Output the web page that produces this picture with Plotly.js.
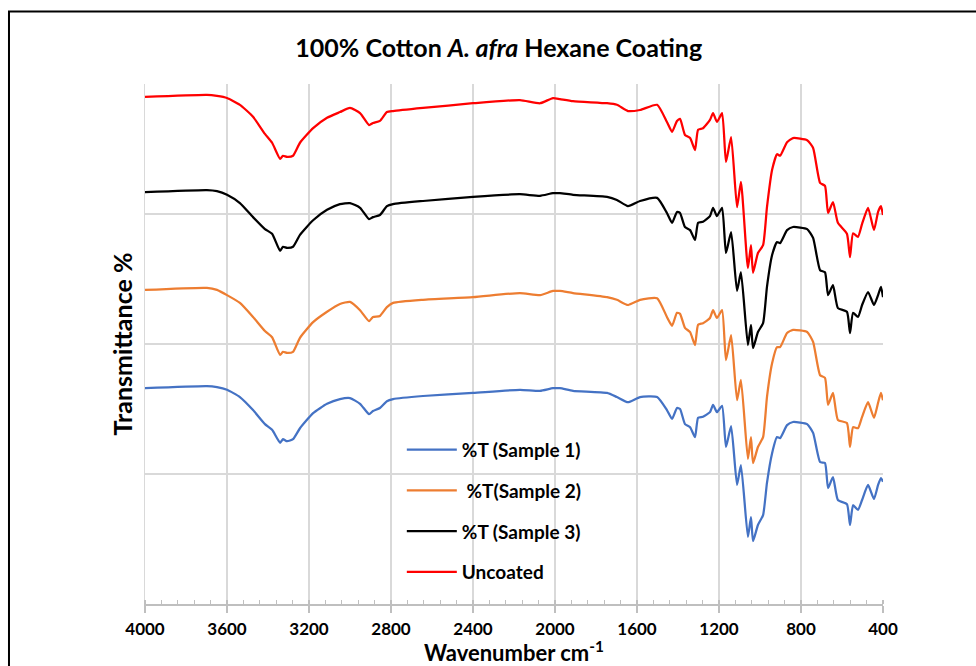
<!DOCTYPE html>
<html>
<head>
<meta charset="utf-8">
<script src="https://cdn.plot.ly/plotly-3.0.1.min.js"></script>
<style>
  html, body { margin: 0; padding: 0; background: #ffffff; }
  #chart { width: 976px; height: 666px; }
</style>
</head>
<body>
<div id="chart"></div>
<script>
// Wavenumbers (cm-1) shared by all spectra
const wavenumber = [4000, 3698, 3649, 3600, 3537, 3473, 3415, 3380, 3341, 3327,
  3307, 3278, 3244, 3180, 3112, 3049, 3000, 2951, 2907, 2888,
  2854, 2820, 2790, 2644, 2400, 2171, 2073, 2010, 1976, 1912,
  1746, 1698, 1644, 1585, 1502, 1454, 1429, 1405, 1390, 1366,
  1341, 1317, 1302, 1278, 1244, 1229, 1210, 1185, 1166, 1141,
  1112, 1093, 1059, 1044, 1034, 1010, 985, 966, 941, 917,
  902, 868, 839, 770, 741, 707, 683, 668, 644, 620,
  576, 561, 546, 522, 502, 473, 444, 424, 410, 400];

// Transmittance (stacked, arbitrary offset units)
const sample1 = [41.5, 41.9, 41.7, 41.2, 39.8, 37.3, 34.6, 33.5, 31.0, 31.7,
  31.3, 31.7, 33.8, 36.7, 38.5, 39.4, 39.6, 38.5, 36.5, 37.1,
  37.7, 39.0, 39.4, 40.0, 40.6, 41.2, 41.0, 41.5, 41.5, 41.0,
  40.6, 39.8, 38.8, 39.8, 39.8, 37.3, 35.6, 37.7, 37.5, 34.6,
  34.0, 32.1, 35.8, 36.0, 36.9, 38.3, 36.9, 38.1, 30.2, 34.2,
  22.9, 26.7, 12.9, 16.7, 12.1, 15.2, 17.1, 23.3, 29.0, 32.1,
  31.9, 34.4, 35.0, 34.6, 32.9, 27.3, 27.1, 22.3, 24.4, 20.0,
  19.2, 15.2, 19.0, 18.1, 20.0, 22.9, 20.2, 22.9, 24.2, 23.5];

const sample2 = [60.4, 60.8, 60.4, 59.4, 57.9, 55.2, 52.5, 51.3, 47.9, 48.5,
  48.3, 48.5, 51.2, 54.2, 56.2, 57.7, 58.1, 56.5, 54.4, 55.2,
  55.4, 57.1, 57.9, 58.5, 59.0, 59.8, 59.4, 60.2, 60.2, 59.8,
  59.0, 58.5, 57.5, 58.5, 58.8, 55.2, 53.5, 56.0, 55.8, 53.1,
  52.3, 49.8, 53.7, 54.0, 55.0, 56.5, 55.0, 56.5, 46.9, 51.7,
  39.2, 43.1, 27.9, 32.1, 27.1, 30.2, 32.1, 39.8, 46.3, 49.4,
  49.4, 52.1, 52.7, 52.3, 50.4, 44.0, 43.5, 38.3, 40.6, 35.4,
  34.8, 30.2, 34.0, 33.8, 36.0, 38.8, 35.8, 38.7, 40.6, 39.2];

const sample3 = [79.2, 79.6, 79.4, 78.7, 77.1, 74.4, 72.1, 71.2, 67.9, 68.7,
  68.5, 68.7, 71.0, 73.8, 75.8, 76.9, 77.1, 76.2, 74.0, 74.4,
  74.8, 76.5, 76.9, 77.5, 78.3, 78.8, 78.5, 79.0, 79.0, 78.7,
  78.3, 77.7, 76.5, 77.5, 78.1, 75.2, 73.3, 75.4, 75.2, 72.5,
  71.9, 70.0, 73.3, 73.5, 74.6, 76.2, 74.6, 76.2, 67.5, 71.5,
  60.2, 63.8, 49.8, 53.7, 49.2, 52.3, 54.0, 61.0, 67.1, 69.6,
  69.4, 71.9, 72.5, 72.1, 70.4, 64.2, 63.8, 59.4, 61.3, 56.9,
  56.2, 52.1, 56.0, 55.2, 57.5, 60.0, 57.5, 59.4, 61.0, 59.0];

const uncoated = [97.5, 97.9, 97.7, 97.3, 96.0, 93.7, 90.4, 88.7, 85.6, 86.2,
  86.0, 86.2, 88.7, 91.5, 93.5, 94.6, 95.4, 94.4, 92.1, 92.5,
  92.9, 94.6, 94.8, 95.4, 96.3, 96.9, 96.3, 97.3, 97.1, 96.7,
  96.3, 96.0, 94.8, 95.0, 96.0, 92.7, 90.8, 92.9, 93.3, 90.2,
  89.6, 87.3, 91.2, 91.5, 93.1, 94.4, 92.7, 94.4, 85.0, 89.8,
  76.3, 81.2, 64.6, 69.0, 63.7, 67.5, 69.0, 76.3, 83.5, 86.5,
  86.2, 88.8, 89.6, 89.2, 87.7, 81.0, 80.4, 75.2, 77.3, 73.3,
  71.2, 66.7, 71.3, 70.6, 73.1, 76.2, 71.9, 75.4, 76.5, 74.8];

const seriesNames = ['%T (Sample 1)', ' %T(Sample 2)', '%T (Sample 3)', 'Uncoated'];
const seriesValues = [sample1, sample2, sample3, uncoated];
const seriesColors = ['#4472C4', '#ED7D31', '#000000', '#FF0000'];
const xTicks = [4000, 3600, 3200, 2800, 2400, 2000, 1600, 1200, 800, 400];

const FONT = 'Lato, "Open Sans", "Liberation Sans", sans-serif';

const traces = seriesValues.map((vals, i) => ({
  type: 'scatter',
  mode: 'lines',
  x: wavenumber,
  y: vals,
  name: seriesNames[i],
  legendgroup: 'g' + i,
  line: { color: seriesColors[i], width: 2.25, shape: 'spline', smoothing: 0.5 },
  hoverinfo: 'skip'
}));

const layout = {
  width: 976,
  height: 666,
  paper_bgcolor: '#ffffff',
  plot_bgcolor: '#ffffff',
  margin: { l: 145, r: 93, t: 84, b: 62 },
  font: { family: FONT, color: '#000000' },
  title: {
    text: '100% Cotton <i>A. afra</i> Hexane Coating',
    font: { family: FONT, size: 25, weight: 'bold', color: '#000000' },
    xref: 'container', x: 0.511, xanchor: 'center',
    yref: 'container', y: 0.928, yanchor: 'middle'
  },
  xaxis: {
    range: [4000, 400],
    tickvals: xTicks,
    ticktext: xTicks.map(String),
    showgrid: true,
    gridcolor: '#d9d9d9',
    gridwidth: 1.5,
    zeroline: false,
    showline: true,
    linecolor: '#bfbfbf',
    linewidth: 1.5,
    ticks: 'outside',
    ticklen: 7,
    tickwidth: 1.5,
    tickcolor: '#bfbfbf',
    ticklabelstandoff: 2,
    tickfont: { family: FONT, size: 17, weight: 'bold', color: '#000000' },
    minor: { dtick: 80, tick0: 400, ticks: 'inside', ticklen: 4, tickwidth: 1.2, tickcolor: '#bfbfbf', showgrid: false },
    title: {
      text: 'Wavenumber cm<sup>-1</sup>',
      font: { family: FONT, size: 22, weight: 'bold', color: '#000000' },
      standoff: 5
    }
  },
  yaxis: {
    range: [0, 100],
    dtick: 25,
    showticklabels: false,
    showgrid: true,
    gridcolor: '#d9d9d9',
    gridwidth: 1.5,
    zeroline: false,
    showline: true,
    linecolor: '#d9d9d9',
    linewidth: 1.5,
    ticks: '',
    title: {
      text: 'Transmittance %',
      font: { family: FONT, size: 25, weight: 'bold', color: '#000000' },
      standoff: 4
    }
  },
  legend: {
    x: 0.348, xanchor: 'left',
    y: 0.333, yanchor: 'top',
    bgcolor: 'rgba(0,0,0,0)',
    traceorder: 'grouped',
    tracegroupgap: 13,
    itemwidth: 50,
    font: { family: FONT, size: 19, weight: 'bold', color: '#000000' }
  },
  shapes: [
    {
      type: 'path', xref: 'paper', yref: 'paper',
      path: 'M -0.1843,-0.2 L -0.1843,1.1394 L 1.2,1.1394',
      line: { color: '#000000', width: 2 }
    }
  ],
  showlegend: true
};

Plotly.newPlot('chart', traces, layout, { displayModeBar: false, staticPlot: true });
</script>
</body>
</html>
